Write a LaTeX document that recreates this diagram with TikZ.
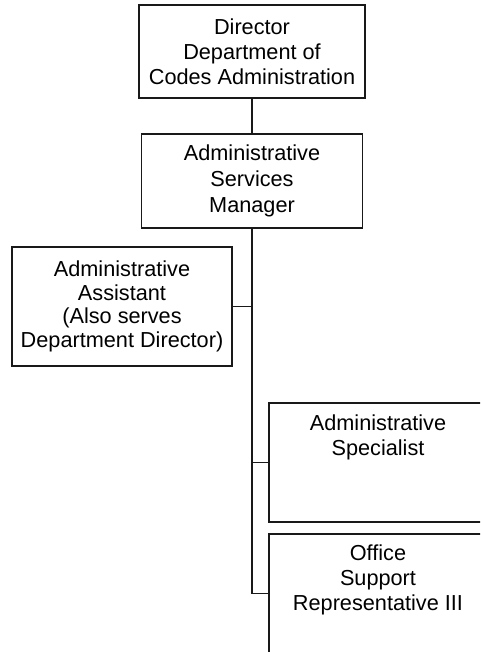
\documentclass[tikz,border=0pt]{standalone}
\usepackage{fontspec}
\setmainfont{Liberation Sans}
\begin{document}
\begin{tikzpicture}[x=1pt,y=-1pt,
  box/.style={draw=black!90, line width=1.3pt, rectangle, inner sep=0pt},
  txt/.style={align=center, inner sep=0pt, font=\fontsize{21.7}{25}\selectfont},
  conn/.style={draw=black!90, line width=1.3pt}]
\clip (0,0) rectangle (480,652);
\node[box, txt, minimum width=226pt, minimum height=93pt] (b1) at (252,51.5)
  {Director\\Department of\\Codes Administration};
\node[box, txt, font=\fontsize{21.7}{26}\selectfont, minimum width=221pt, minimum height=94pt] (b2) at (252,181)
  {Administrative\\Services\\Manager};
\node[box, txt, font=\fontsize{21.7}{23.5}\selectfont, minimum width=220pt, minimum height=119pt] (b3) at (122,306.5)
  {Administrative\\Assistant\\(Also serves\\Department Director)};
\node[box, minimum width=218pt, minimum height=119pt] (b4) at (378,462.5) {};
\node[box, minimum width=218pt, minimum height=119pt] (b5) at (378,593.5) {};
\node[txt, anchor=north] (t4) at (378,414.4) {Administrative\\Specialist};
\node[txt, anchor=north] (t5) at (378,544.2) {Office\\Support\\Representative III};
\draw[conn] (b1.south) -- (b2.north);
\draw[conn] (b2.south) |- (b5.west);
\draw[conn] (b2.south |- b3.east) -- (b3.east);
\draw[conn] (b2.south |- b4.west) -- (b4.west);
\end{tikzpicture}
\end{document}
